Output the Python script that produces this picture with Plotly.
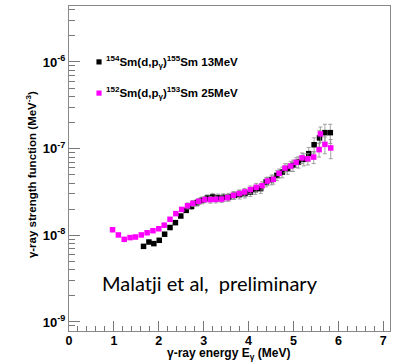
import plotly.graph_objects as go

# ---- data ----
e_154 = [1.66, 1.78, 1.89, 2.01, 2.13, 2.25, 2.37, 2.49, 2.61, 2.73, 2.85, 2.96,
         3.08, 3.20, 3.32, 3.44, 3.56, 3.68, 3.80, 3.92, 4.04, 4.15, 4.27, 4.39,
         4.51, 4.63, 4.75, 4.87, 4.99, 5.11, 5.23, 5.34, 5.46, 5.58, 5.70, 5.82]
f_154 = [7.46e-9, 8.37e-9, 8.02e-9, 8.76e-9, 1.03e-8, 1.23e-8, 1.40e-8, 1.67e-8,
         1.94e-8, 2.16e-8, 2.38e-8, 2.53e-8, 2.69e-8, 2.77e-8, 2.72e-8, 2.74e-8,
         2.77e-8, 2.89e-8, 2.95e-8, 3.03e-8, 3.16e-8, 3.37e-8, 3.46e-8, 4.12e-8,
         4.39e-8, 4.92e-8, 5.37e-8, 5.88e-8, 6.42e-8, 7.01e-8, 7.53e-8, 8.76e-8,
         1.11e-7, 1.33e-7, 1.53e-7, 1.53e-7]
rel_err_154 = [0, 0, 0, 0, 0, 0, 0, 0, 0, 0.08, 0.09, 0.09, 0.09, 0.10, 0.10, 0.10,
               0.10, 0.10, 0.11, 0.11, 0.11, 0.12, 0.12, 0.12, 0.13, 0.13, 0.14, 0.14,
               0.15, 0.15, 0.16, 0.18, 0.20, 0.22, 0.25, 0.25]

e_152 = [0.97, 1.10, 1.23, 1.36, 1.48, 1.61, 1.74, 1.87, 2.00, 2.12, 2.25, 2.38,
         2.51, 2.64, 2.76, 2.89, 3.02, 3.15, 3.27, 3.40, 3.53, 3.66, 3.79, 3.91,
         4.04, 4.17, 4.30, 4.42, 4.55, 4.68, 4.81, 4.94, 5.06, 5.19, 5.32, 5.45,
         5.57, 5.60, 5.70, 5.83]
f_152 = [1.16e-8, 1.01e-8, 8.99e-9, 9.41e-9, 9.56e-9, 1.01e-8, 1.07e-8, 1.13e-8,
         1.19e-8, 1.31e-8, 1.53e-8, 1.78e-8, 1.99e-8, 2.19e-8, 2.34e-8, 2.47e-8,
         2.58e-8, 2.58e-8, 2.60e-8, 2.62e-8, 2.72e-8, 2.89e-8, 3.03e-8, 3.16e-8,
         3.37e-8, 3.58e-8, 3.74e-8, 4.23e-8, 4.43e-8, 5.19e-8, 5.97e-8, 6.30e-8,
         6.95e-8, 7.83e-8, 7.63e-8, 8.00e-8, 9.74e-8, 1.48e-7, 1.12e-7, 1.02e-7]
rel_err_152 = [0, 0, 0, 0, 0, 0, 0, 0, 0, 0, 0, 0, 0, 0.08, 0.08, 0.08, 0.08, 0.09,
               0.09, 0.09, 0.09, 0.10, 0.10, 0.10, 0.10, 0.11, 0.11, 0.11, 0.12, 0.12,
               0.12, 0.13, 0.13, 0.14, 0.15, 0.16, 0.18, 0.20, 0.22, 0.25]

label_154 = "<sup>154</sup>Sm(d,p<sub>γ</sub>)<sup>155</sup>Sm 13MeV"
label_152 = "<sup>152</sup>Sm(d,p<sub>γ</sub>)<sup>153</sup>Sm 25MeV"

x_ticks = [0, 1, 2, 3, 4, 5, 6, 7]
x_ticktext = ["<b>0</b>", "<b>1</b>", "<b>2</b>", "<b>3</b>", "<b>4</b>", "<b>5</b>", "<b>6</b>", "<b>7</b>"]
y_ticks = [1e-9, 1e-8, 1e-7, 1e-6]
y_ticktext = ["<b>10<sup>-9</sup></b>", "<b>10<sup>-8</sup></b>",
              "<b>10<sup>-7</sup></b>", "<b>10<sup>-6</sup></b>"]

err_col = "#8c8c8c"

def errs(vals, rel):
    return [v * r for v, r in zip(vals, rel)]

fig = go.Figure()
fig.add_trace(go.Scatter(
    x=e_154, y=f_154, mode="markers", name=label_154,
    marker=dict(symbol="square", size=5.5, color="black"),
    error_y=dict(type="data", array=errs(f_154, rel_err_154), color=err_col,
                 thickness=0.8, width=2),
))
fig.add_trace(go.Scatter(
    x=e_152, y=f_152, mode="markers", name=label_152,
    marker=dict(symbol="square", size=5.5, color="#ff00ff"),
    error_y=dict(type="data", array=errs(f_152, rel_err_152), color=err_col,
                 thickness=0.8, width=2),
))

minor_y = [m * 10 ** p for p in (-10, -9, -8, -7, -6) for m in range(2, 10)]

x_font = dict(family="Liberation Sans, Arial, sans-serif", size=12.5, color="black")
y_font = dict(family="Liberation Sans, Arial, sans-serif", size=13, color="black")

fig.update_layout(
    width=393, height=363,
    margin=dict(l=69, r=3, t=6, b=32),
    paper_bgcolor="white", plot_bgcolor="white",
    showlegend=False,
    xaxis=dict(
        range=[0, 7.15], tickvals=x_ticks, ticktext=x_ticktext, ticks="inside", ticklen=10,
        tickcolor="#777", tickwidth=1, showgrid=False, zeroline=False,
        showline=True, linecolor="#888", linewidth=1, mirror=True,
        tickfont=x_font, automargin=False, ticklabelstandoff=-2,
        minor=dict(dtick=0.2, ticks="inside", ticklen=5, tickcolor="#777", showgrid=False),
    ),
    yaxis=dict(
        type="log", range=[-9.104, -5.354], tickvals=y_ticks, ticktext=y_ticktext,
        ticks="inside", ticklen=11, tickcolor="#777", tickwidth=1,
        showgrid=False, zeroline=False, showline=True, linecolor="#888",
        linewidth=1, mirror=True, tickfont=y_font, automargin=False,
        minor=dict(tickvals=minor_y, ticks="inside", ticklen=6, tickcolor="#777", showgrid=False),
    ),
)

bold = "Liberation Sans, Arial, sans-serif"
annotations = [
    dict(text="<b>γ-ray strength function (MeV<sup>-3</sup>)</b>", x=-0.118, y=0.48,
         xref="paper", yref="paper", xanchor="center", yanchor="middle",
         textangle=-90, showarrow=False,
         font=dict(family=bold, size=11.5, color="black")),
    dict(text="<b>γ-ray energy E<sub>γ</sub> (MeV)</b>", x=0.498, y=-0.098,
         xref="paper", yref="paper", xanchor="center", yanchor="bottom", showarrow=False,
         borderpad=0, font=dict(family=bold, size=12, color="black")),
    dict(text="<b>" + label_154 + "</b>", x=0.109, y=0.828, xref="paper", yref="paper",
         xanchor="left", yanchor="middle", showarrow=False,
         font=dict(family=bold, size=11.5, color="black")),
    dict(text="<b>" + label_152 + "</b>", x=0.109, y=0.732, xref="paper", yref="paper",
         xanchor="left", yanchor="middle", showarrow=False,
         font=dict(family=bold, size=11.5, color="black")),
    dict(text="Malatji et al,  preliminary", x=0.4377, y=0.148, xref="paper", yref="paper",
         xanchor="center", yanchor="middle", showarrow=False,
         font=dict(family="Lato, Open Sans, sans-serif", size=20, color="black")),
]
fig.update_layout(annotations=annotations)

# legend keys
for yk, col in ((0.828, "black"), (0.732, "#ff00ff")):
    fig.add_shape(type="rect", xref="paper", yref="paper",
                  x0=0.0935 - 0.008, x1=0.0935 + 0.008,
                  y0=yk - 0.008, y1=yk + 0.008,
                  fillcolor=col, line=dict(width=0))

fig.write_html("out.html", config={"displayModeBar": False},
               post_script="document.body.style.margin='0';document.body.style.padding='0';")
